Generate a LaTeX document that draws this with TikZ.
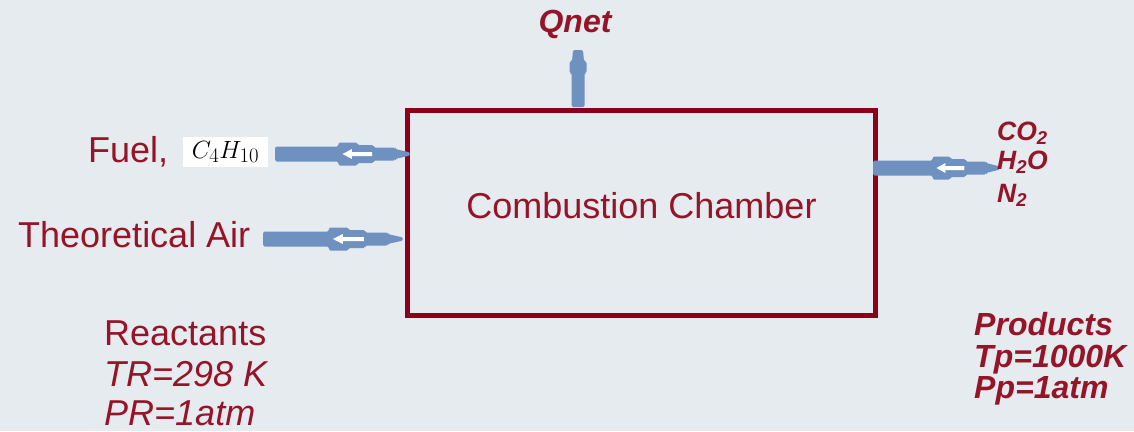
\documentclass[tikz,border=0pt]{standalone}
\usepackage{fontspec}
\setmainfont{Liberation Sans}
\definecolor{bg}{RGB}{230,235,240}
\definecolor{wine}{RGB}{150,20,40}
\definecolor{frame}{RGB}{140,0,25}
\definecolor{flow}{RGB}{110,145,192}

\tikzset{
  lbl/.style={text=wine, inner sep=0pt, anchor=base west},
  big/.style={font=\fontsize{36}{40}\selectfont},
  bigit/.style={font=\fontsize{36}{40}\selectfont\itshape},
  boldit/.style={font=\fontsize{32}{35}\selectfont\bfseries\itshape},
  species/.style={font=\fontsize{26.5}{29}\selectfont\bfseries\itshape},
  % block arrow with a small hollow arrow mark, drawn from (0,0) to (#1,0)
  flowarrow/.pic={
    \fill[flow, rounded corners=1.5pt]
      (0,-7.5) -- ({0.47*#1},-7.5) -- ({0.47*#1},-11.5) -- ({0.61*#1},-11.5)
      -- ({0.61*#1},-9) -- ({0.73*#1},-9) -- ({0.73*#1},-6.5)
      -- ({0.89*#1},-6.5) -- ({0.89*#1},-5) -- (#1,-1.5) -- (#1,1.5)
      -- ({0.89*#1},5) -- ({0.89*#1},6.5) -- ({0.73*#1},6.5)
      -- ({0.73*#1},9) -- ({0.61*#1},9) -- ({0.61*#1},11.5)
      -- ({0.47*#1},11.5) -- ({0.47*#1},7.5) -- (0,7.5) -- cycle;
    \fill[white]
      ({0.50*#1},0) -- ({0.57*#1},-5) -- ({0.57*#1},-2) -- ({0.72*#1},-2)
      -- ({0.72*#1},2) -- ({0.57*#1},2) -- ({0.57*#1},5) -- cycle;
  },
  % plain block arrow, drawn from (0,0) to (#1,0)
  ventarrow/.pic={
    \fill[flow, rounded corners=1.5pt]
      (0,-6.5) -- ({0.6*#1},-6.5) -- ({0.6*#1},-8.5) -- ({0.8*#1},-8.5)
      -- ({0.8*#1},-6) -- (#1,-5) -- (#1,5) -- ({0.8*#1},6)
      -- ({0.8*#1},8.5) -- ({0.6*#1},8.5) -- ({0.6*#1},6.5) -- (0,6.5) -- cycle;
  }
}

\begin{document}
\begin{tikzpicture}[x=1pt, y=-1pt]
  \fill[bg] (0,0) rectangle (1134,431);
  \useasboundingbox (0,0) rectangle (1134,431);

  % combustion chamber
  \node[draw=frame, line width=5pt, minimum width=468pt, minimum height=205pt,
        inner sep=0pt] (chamber) at (641.5,213) {};
  \node[lbl, big, anchor=base] (chambertxt) at (641.5,218) {Combustion Chamber};

  % inlet labels
  \node[lbl, big] (fuel) at (88,162) {Fuel,};
  \node[fill=white, inner sep=0pt, minimum width=85pt, minimum height=30pt,
        font=\fontsize{29}{32}\selectfont] (formula) at (225.5,152) {$C_4H_{10}$};
  \node[lbl, big] (air) at (18,247) {Theoretical Air};

  % arrow anchor points
  \coordinate (fuelbase) at (275,154);
  \coordinate (airbase) at (263,239);
  \coordinate (prodbase) at (873,168);
  \coordinate (heatbase) at (578,107);

  \pic at (fuelbase) {flowarrow=135};
  \pic at (airbase) {flowarrow=140};
  \pic at (prodbase) {flowarrow=127};
  \pic[rotate=90] at (heatbase) {ventarrow=57};

  % heat output
  \node[lbl, boldit, anchor=base] (qnet) at (575,32) {Qnet};

  % product species
  \node[lbl, species] (co2) at (997,140) {CO\textsubscript{2}};
  \node[lbl, species] (h2o) at (997,169) {H\textsubscript{2}O};
  \node[lbl, species] (n2) at (997,202) {N\textsubscript{2}};

  % reactant state
  \node[lbl, big] (reac) at (104,345) {Reactants};
  \node[lbl, bigit] (tr) at (104,386) {TR=298 K};
  \node[lbl, bigit] (pr) at (104,425) {PR=1atm};

  % product state
  \node[lbl, boldit] (prod) at (974,335) {Products};
  \node[lbl, boldit] (tp) at (974,367) {Tp=1000K};
  \node[lbl, boldit] (pp) at (974,398) {Pp=1atm};
\end{tikzpicture}
\end{document}
